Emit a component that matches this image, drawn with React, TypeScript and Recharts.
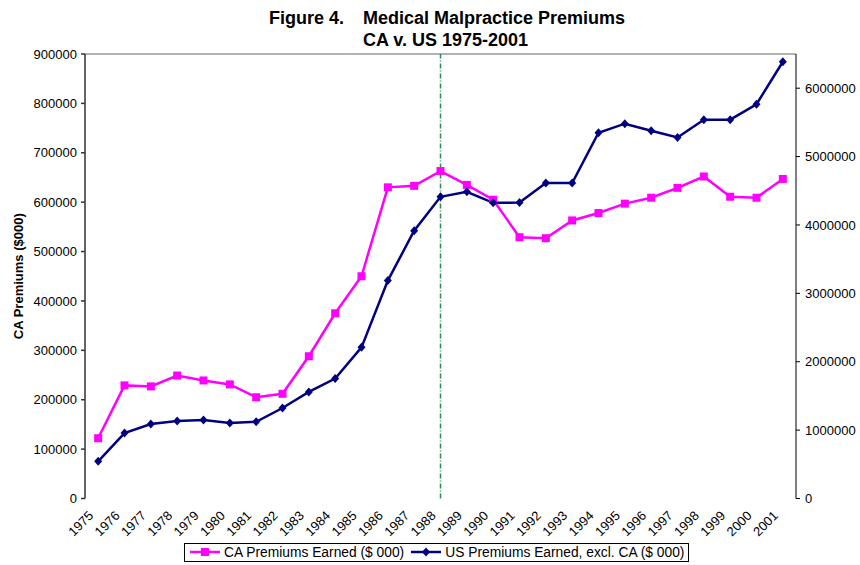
import { LineChart, Line, XAxis, YAxis, ReferenceLine, Legend } from "recharts";

const years = [
  1975, 1976, 1977, 1978, 1979, 1980, 1981, 1982, 1983, 1984, 1985, 1986, 1987, 1988,
  1989, 1990, 1991, 1992, 1993, 1994, 1995, 1996, 1997, 1998, 1999, 2000, 2001,
];

// CA premiums earned ($ 000), left axis
const caPremiums = [
  122000, 229000, 227000, 249000, 239000, 231000, 205000, 212000, 288000, 375000, 450000,
  630000, 633000, 663000, 635000, 605000, 529000, 527000, 563000, 578000, 597000, 609000,
  629000, 652000, 611000, 609000, 647000,
];

// US premiums earned excluding CA ($ 000), right axis
const usPremiums = [
  544000, 956000, 1088000, 1132000, 1147000, 1103000, 1122000, 1323000, 1559000, 1754000,
  2210000, 3187000, 3916000, 4412000, 4485000, 4324000, 4328000, 4613000, 4613000, 5349000,
  5481000, 5378000, 5280000, 5540000, 5540000, 5765000, 6387000,
];

const leftTicks = [0, 100000, 200000, 300000, 400000, 500000, 600000, 700000, 800000, 900000];
const rightTicks = [0, 1000000, 2000000, 3000000, 4000000, 5000000, 6000000];

const data = years.map((year, i) => ({ year, ca: caPremiums[i], us: usPremiums[i] }));
// Excel puts the x tick marks between the categories
const yearEdges = [...years.map((y) => y - 0.5), years[years.length - 1] + 0.5];

const FONT = "'Liberation Sans', Arial, sans-serif";
const PINK = "#FF00FF";
const NAVY = "#000080";

function SquareDot(props: any) {
  const { cx, cy } = props;
  if (cx == null || cy == null) return null;
  return <rect x={cx - 4} y={cy - 4} width={8} height={8} fill={PINK} />;
}

function DiamondDot(props: any) {
  const { cx, cy } = props;
  if (cx == null || cy == null) return null;
  return (
    <polygon
      points={`${cx},${cy - 4.5} ${cx + 4},${cy} ${cx},${cy + 4.5} ${cx - 4},${cy}`}
      fill={NAVY}
    />
  );
}

function YearTick(props: any) {
  const { x, y, payload } = props;
  const px = x - 4;
  const py = y + 18;
  return (
    <text
      x={px}
      y={py}
      transform={`rotate(-45 ${px} ${py})`}
      textAnchor="end"
      fontSize={13}
      fontFamily={FONT}
      fill="#000"
    >
      {payload.value}
    </text>
  );
}

// tick mark that crosses the axis line, like Excel's
function CrossTick(props: any) {
  const { x, y } = props;
  return <line x1={x} x2={x} y1={y - 4} y2={y + 4} stroke="#000" />;
}

function LegendIcon({ color, marker }: { color: string; marker: "square" | "diamond" }) {
  return (
    <svg width={32} height={12} style={{ marginRight: 3 }}>
      <line x1={1} y1={6} x2={31} y2={6} stroke={color} strokeWidth={2.5} />
      {marker === "square" ? (
        <rect x={12} y={2} width={8} height={8} fill={color} />
      ) : (
        <polygon points="16,1.5 20,6 16,10.5 12,6" fill={color} />
      )}
    </svg>
  );
}

function ChartLegend() {
  return (
    <div
      style={{
        display: "inline-flex",
        alignItems: "center",
        border: "1px solid #000",
        padding: "1px 4px 1px 4px",
        fontSize: 13.8,
        fontFamily: FONT,
        color: "#000",
        background: "#fff",
        whiteSpace: "nowrap",
      }}
    >
      <LegendIcon color={PINK} marker="square" />
      <span style={{ marginRight: 6 }}>CA Premiums Earned ($ 000)</span>
      <LegendIcon color={NAVY} marker="diamond" />
      <span>US Premiums Earned, excl. CA ($ 000)</span>
    </div>
  );
}

export default function App() {
  return (
    <div style={{ position: "absolute", left: 0, top: 0, width: 860, height: 565, background: "#fff" }}>
      <div
        style={{
          position: "absolute",
          left: 269,
          top: 7,
          fontFamily: FONT,
          fontWeight: "bold",
          fontSize: 18,
          lineHeight: "22px",
          display: "flex",
          color: "#000",
        }}
      >
        <div style={{ width: 94 }}>Figure 4.</div>
        <div>
          <div>Medical Malpractice Premiums</div>
          <div>CA v. US 1975-2001</div>
        </div>
      </div>
      <LineChart
        width={860}
        height={565}
        data={data}
        margin={{ top: 54, right: 0, bottom: 7, left: 0 }}
      >
        <XAxis
          xAxisId="edges"
          type="number"
          dataKey="year"
          domain={[1974.5, 2001.5]}
          ticks={yearEdges}
          tick={<CrossTick />}
          tickLine={false}
          tickSize={0}
          tickMargin={0}
          height={0}
          stroke="#000"
          allowDataOverflow
        />
        <XAxis
          xAxisId="years"
          type="number"
          dataKey="year"
          domain={[1974.5, 2001.5]}
          ticks={years}
          interval={0}
          tick={<YearTick />}
          tickLine={false}
          axisLine={false}
          tickSize={0}
          tickMargin={0}
          height={40}
          allowDataOverflow
        />
        <YAxis
          yAxisId="left"
          orientation="left"
          width={85}
          domain={[0, 900000]}
          ticks={leftTicks}
          interval={0}
          tickSize={4}
          tickMargin={4}
          stroke="#333"
          strokeWidth={1.5}
          tick={{ fontSize: 13, fontFamily: FONT, fill: "#000" }}
          label={{
            value: "CA Premiums ($000)",
            angle: -90,
            position: "insideLeft",
            offset: 18,
            style: { fontSize: 13, fontWeight: "bold", fontFamily: FONT, fill: "#000", textAnchor: "middle" },
          }}
        />
        <YAxis
          yAxisId="right"
          orientation="right"
          width={64}
          domain={[0, 6500000]}
          ticks={rightTicks}
          interval={0}
          tickSize={4}
          tickMargin={5}
          stroke="#000"
          tick={{ fontSize: 13, fontFamily: FONT, fill: "#000", textAnchor: "start" }}
        />
        <ReferenceLine yAxisId="left" xAxisId="years" y={900000} stroke="#999" strokeWidth={1.5} />
        <ReferenceLine
          yAxisId="left"
          xAxisId="years"
          x={1988}
          stroke="#2E8B57"
          strokeWidth={1.5}
          strokeDasharray="5 2 1 2"
        />
        <Line
          xAxisId="years"
          yAxisId="left"
          dataKey="ca"
          name="CA Premiums Earned ($ 000)"
          stroke={PINK}
          strokeWidth={2.5}
          dot={<SquareDot />}
          activeDot={false}
          isAnimationActive={false}
        />
        <Line
          xAxisId="years"
          yAxisId="right"
          dataKey="us"
          name="US Premiums Earned, excl. CA ($ 000)"
          stroke={NAVY}
          strokeWidth={2.5}
          dot={<DiamondDot />}
          activeDot={false}
          isAnimationActive={false}
        />
        <Legend
          verticalAlign="bottom"
          content={<ChartLegend />}
          wrapperStyle={{ left: 184, width: "auto", bottom: 3 }}
        />
      </LineChart>
    </div>
  );
}
